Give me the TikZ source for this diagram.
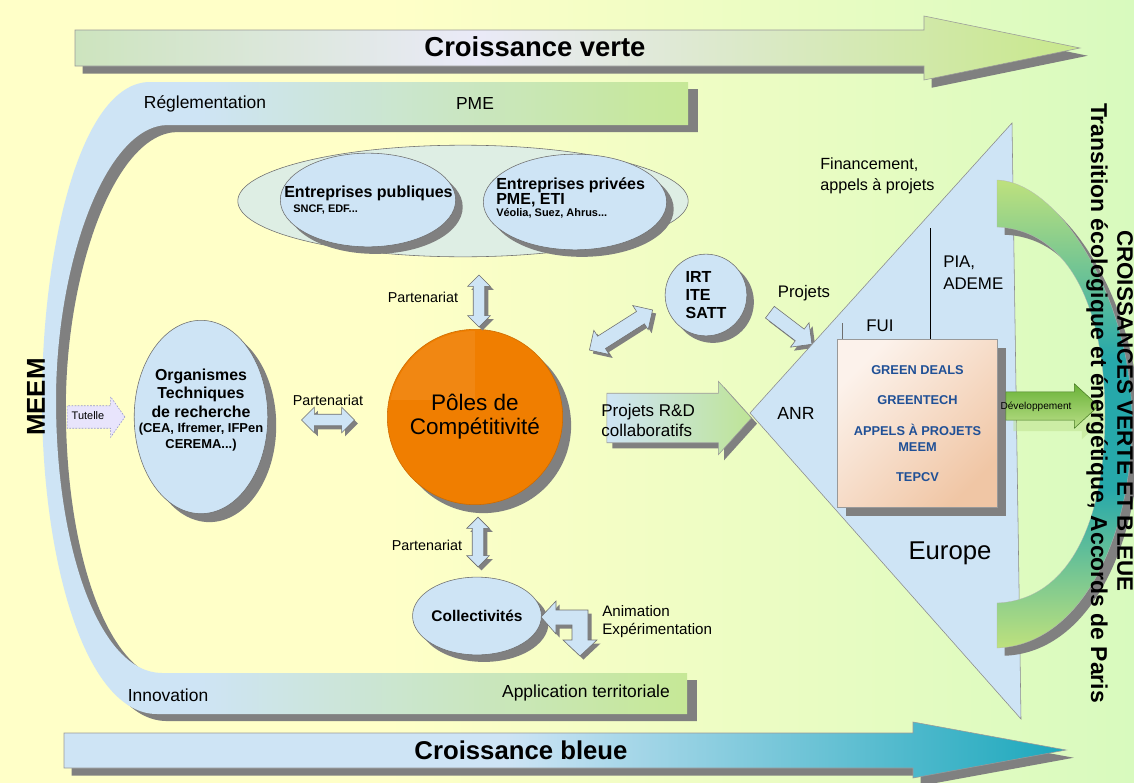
\documentclass[tikz,border=0pt]{standalone}
\usepackage{fontspec}
\setmainfont{Liberation Sans}
\usetikzlibrary{shapes.geometric,shapes.arrows,shadows}

\definecolor{bgyellow}{RGB}{255,255,200}
\definecolor{bggreen}{RGB}{216,250,190}
\definecolor{paleblue}{RGB}{206,228,245}
\definecolor{bandgreen}{RGB}{198,232,150}
\definecolor{shadowgray}{RGB}{128,128,128}
\definecolor{linegray}{RGB}{110,110,110}
\definecolor{verteL}{RGB}{205,228,190}
\definecolor{verteM}{RGB}{234,234,248}
\definecolor{verteR}{RGB}{200,232,140}
\definecolor{bleueT}{RGB}{28,168,188}
\definecolor{poleorange}{RGB}{240,126,0}
\definecolor{bigoval}{RGB}{222,238,228}
\definecolor{peachA}{RGB}{252,242,235}
\definecolor{peachB}{RGB}{240,198,165}
\definecolor{dealblue}{RGB}{32,80,150}
\definecolor{devdark}{RGB}{105,178,55}
\definecolor{devlight}{RGB}{185,222,135}
\definecolor{rdgreen}{RGB}{190,228,150}
\definecolor{tutellefill}{RGB}{232,228,252}
\definecolor{tutelledraw}{RGB}{150,150,205}
\definecolor{crescteal}{RGB}{38,168,170}
\definecolor{crescgreen}{RGB}{190,225,125}

\pgfdeclarehorizontalshading{bgshade}{100bp}{color(0bp)=(bgyellow); color(42bp)=(bgyellow); color(75bp)=(bggreen); color(100bp)=(bggreen)}
\pgfdeclarehorizontalshading{vertshade}{100bp}{color(0bp)=(verteL); color(25bp)=(verteL); color(45bp)=(verteM); color(75bp)=(verteR); color(100bp)=(verteR)}
\pgfdeclarehorizontalshading{bleueshade}{100bp}{color(0bp)=(paleblue); color(47bp)=(paleblue); color(75bp)=(bleueT); color(100bp)=(bleueT)}
\pgfdeclarehorizontalshading{bandshade}{100bp}{color(0bp)=(paleblue); color(37bp)=(paleblue); color(75bp)=(bandgreen); color(100bp)=(bandgreen)}
\pgfdeclareverticalshading{cresshade}{100bp}{color(0bp)=(crescgreen); color(25bp)=(crescgreen); color(42bp)=(crescteal); color(56bp)=(crescteal); color(75bp)=(crescgreen); color(100bp)=(crescgreen)}

\tikzset{
  dropgray/.style={drop shadow={fill=shadowgray,opacity=1,shadow xshift=#1,shadow yshift=-#1}},
  dropgray/.default=5pt,
  bubble/.style={ellipse, draw=linegray, fill=paleblue, inner sep=0pt},
  dblarrow/.style={double arrow, draw=linegray, fill=paleblue, inner xsep=0pt, dropgray=2.5pt},
  sglarrow/.style={single arrow, draw=linegray, fill=paleblue, inner xsep=0pt, dropgray=2.5pt},
  bigtitle/.style={font=\fontsize{19.5}{23}\selectfont\bfseries, inner sep=0pt},
  band/.style={font=\fontsize{12.4}{15}\selectfont, inner sep=0pt},
  small/.style={font=\fontsize{10.2}{12}\selectfont, inner sep=0pt},
  head/.style={font=\fontsize{11.4}{13}\selectfont\bfseries, inner sep=0pt},
  tinybold/.style={font=\fontsize{7.8}{9}\selectfont\bfseries, inner sep=0pt}
}

\begin{document}
\begin{tikzpicture}[x=0.025cm, y=-0.025cm]
    % page and background
    \useasboundingbox (0,0) rectangle (1134,783);
    \shade[shading=bgshade] (0,0) rectangle (1134,783);

    % croissance verte
    \shade[shading=vertshade, draw=linegray!70, thin, dropgray=5.5pt]
      (75,30) -- (924,30) -- (924,16) -- (1080,48) -- (924,80) -- (924,66) -- (75,66) -- cycle;
    \node[bigtitle] (verte) at (535,47) {Croissance verte};

    % croissance bleue
    \shade[shading=bleueshade, draw=linegray!70, thin, dropgray=5.5pt]
      (64,733) -- (913,733) -- (913,722) -- (1066,750) -- (913,778) -- (913,768) -- (64,768) -- cycle;
    \node[bigtitle, font=\fontsize{18.3}{22}\selectfont\bfseries] (bleue) at (521,750) {Croissance bleue};

    % MEEM band
    \shade[shading=bandshade, drop shadow={fill=shadowgray,opacity=1,shadow xshift=7pt,shadow yshift=-5pt}]
      (688,82) -- (150,82) .. controls (80,82) and (42,250) .. (42,400)
      .. controls (42,560) and (85,714) .. (157,714) -- (687,714) -- (687,673) -- (162,673)
      .. controls (100,673) and (56,550) .. (56,400) .. controls (56,265) and (105,125) .. (168,125)
      -- (688,125) -- cycle;
    \node[band] (regl) at (205,104) {Réglementation};
    \node[band] (pme) at (475,104) {PME};
    \node[band] (innov) at (168,695) {Innovation};
    \node[band] (terr) at (586,693) {Application territoriale};
    \node[font=\fontsize{18.4}{20}\selectfont\bfseries, inner sep=0pt, rotate=90] (meem) at (36,397) {MEEM};

    % entreprises
    \node[ellipse, draw=linegray, fill=bigoval, minimum width=320.3pt, minimum height=79.4pt] (entr) at (463,201) {};
    \node[bubble, minimum width=124.7pt, minimum height=66.6pt, dropgray] (pub) at (368,200) {};
    \node[bubble, minimum width=130.4pt, minimum height=68pt, dropgray] (priv) at (575,202) {};
    \node[head, anchor=west] (pubname) at (284,193) {Entreprises publiques};
    \node[tinybold, anchor=west] (publist) at (293,210) {SNCF, EDF...};
    \node[head, anchor=west] (privname) at (496,185) {Entreprises privées};
    \node[head, anchor=west] (privsize) at (496,200) {PME, ETI};
    \node[tinybold, anchor=west] (privlist) at (496,213) {Véolia, Suez, Ahrus...};

    % organismes
    \node[bubble, minimum width=95pt, minimum height=137.5pt, dropgray=6pt] (org) at (201,417) {};
    \node[head, font=\fontsize{11.3}{13.1}\selectfont\bfseries, align=center] (orgname) at (201,393) {Organismes\\Techniques\\de recherche};
    \node[font=\fontsize{9.2}{11}\selectfont\bfseries, inner sep=0pt, align=center] (orglist) at (201,437) {(CEA, Ifremer, IFPen\\CEREMA...)};

    % tutelle
    \node[single arrow, draw=tutelledraw, dash pattern=on 1.2pt off 1pt, fill=tutellefill, minimum height=41.1pt,
          inner xsep=0pt, inner ysep=7.8pt, single arrow head extend=6.4pt, single arrow tip angle=110] (tut) at (92,417) {};
    \node[font=\fontsize{7.8}{9}\selectfont, inner sep=0pt] (tuttext) at (88,416) {Tutelle};

    % poles
    \node[circle, fill=poleorange, draw=poleorange!85!black, minimum size=124.7pt, dropgray=6pt] (pole) at (475,417) {};
    \begin{scope}
      \clip (475,417) circle [radius=86];
      \fill[white, opacity=0.07] (380,320) rectangle (475,400);
    \end{scope}
    \node[font=\fontsize{16}{17}\selectfont, inner sep=0pt, align=center] (poletext) at (pole) {Pôles de\\Compétitivité};

    % partenariat arrows
    \node[dblarrow, minimum height=37.6pt, inner ysep=3.9pt, double arrow head extend=5pt] (partorg) at (328,420) {};
    \node[small] (partorgtext) at (328,400) {Partenariat};
    \node[dblarrow, rotate=90, minimum height=36.9pt, inner ysep=3.9pt, double arrow head extend=3.9pt] (partentr) at (479,301) {};
    \node[small] (partentrtext) at (423,297) {Partenariat};
    \node[dblarrow, rotate=90, minimum height=35.4pt, inner ysep=3.9pt, double arrow head extend=3.9pt] (partcoll) at (478,542) {};
    \node[small] (partcolltext) at (427,545) {Partenariat};
    \node[dblarrow, rotate=32.4, minimum height=53.2pt, inner ysep=5pt, double arrow head extend=5pt] (partirt) at (621,330) {};

    % IRT
    \node[bubble, circle, minimum size=58.1pt, dropgray, align=left, font=\fontsize{11.4}{13}\selectfont\bfseries] (irt) at (706,295) {IRT\\ITE\\SATT};
    \node[sglarrow, rotate=-37.3, minimum height=37.6pt, inner ysep=5pt, single arrow head extend=5.7pt] (proj) at (788,326) {};
    \node[font=\fontsize{11.9}{14}\selectfont, inner sep=0pt] (projtext) at (804,293) {Projets};

    % collectivites
    \node[bubble, minimum width=78pt, minimum height=55.3pt, dropgray, font=\fontsize{11}{13}\selectfont\bfseries] (coll) at (477,616) {Collectivités};
    \draw[draw=linegray, fill=paleblue, dropgray=2.5pt] (541,617) -- (556,601) -- (556,610) -- (588,610) -- (588,640)
      -- (597,640) -- (580,656) -- (563,640) -- (572,640) -- (572,625) -- (556,625) -- (556,634) -- cycle;
    \node[font=\fontsize{10.8}{12.8}\selectfont, inner sep=0pt, align=left, anchor=west] (anim) at (602,622) {Animation\\Expérimentation};

    % projets R&D
    \node[single arrow, draw=linegray!70, left color=paleblue, right color=rdgreen, minimum height=102.8pt, inner xsep=0pt,
          inner ysep=17.4pt, single arrow head extend=8.5pt, single arrow tip angle=96, dropgray=4pt] (rd) at (668,418) {};
    \node[font=\fontsize{12.1}{14.2}\selectfont, inner sep=0pt, align=left, anchor=west] (rdtext) at (601,420) {Projets R\&D\\collaboratifs};

    % europe
    \draw[fill=paleblue, draw=linegray!80, thin] (750,413) -- (1012,123) -- (1021,719) -- cycle;
    \draw[thin] (930,228) -- (930,340);
    \draw[thin, linegray] (842,323) -- (842,339);
    \node[font=\fontsize{11.5}{14.9}\selectfont, inner sep=0pt, align=left, anchor=west] (fin) at (820,176) {Financement,\\appels à projets};
    \node[font=\fontsize{12}{15.6}\selectfont, inner sep=0pt, align=left, anchor=west] (pia) at (943,273) {PIA,\\ADEME};
    \node[font=\fontsize{12}{14}\selectfont, inner sep=0pt] (fui) at (880,326) {FUI};
    \node[font=\fontsize{12.5}{14}\selectfont, inner sep=0pt] (anr) at (796,413) {ANR};
    \node[font=\fontsize{18.3}{20}\selectfont, inner sep=0pt] (europe) at (950,553) {Europe};

    % appels a projets box
    \node[rectangle, draw=linegray!70, top color=peachA, bottom color=peachB, shading angle=45,
          minimum width=113.4pt, minimum height=119.8pt, dropgray=6pt, text=dealblue,
          font=\fontsize{9.1}{11.3}\selectfont\bfseries, align=center] (deals) at (917.5,423.5)
          {GREEN DEALS\\[10.3pt]GREENTECH\\[10.3pt]APPELS À PROJETS\\MEEM\\[10.3pt]TEPCV};

    % developpement
    \node[single arrow, fill=devlight, opacity=0.45, minimum height=65.9pt, inner xsep=0pt, inner ysep=9.9pt,
          single arrow head extend=5.7pt, single arrow tip angle=85] (devrefl) at (1052,417) {};
    \node[single arrow, draw=devdark!70!black, top color=devdark, bottom color=devlight, minimum height=65.9pt,
          inner xsep=0pt, inner ysep=9.9pt, single arrow head extend=5.7pt, single arrow tip angle=85] (dev) at (1044.5,406) {};
    \node[font=\fontsize{7.2}{8}\selectfont, inner sep=0pt] (devtext) at (1036,407) {Développement};

    % croissances verte et bleue
    \shade[shading=cresshade, draw=linegray!50, very thin, dropgray=5.5pt]
      (997,180) .. controls (1060,182) and (1132,300) .. (1132,420) .. controls (1132,540) and (1080,645) .. (997,648)
      -- (997,603) .. controls (1070,600) and (1105,520) .. (1105,415) .. controls (1105,310) and (1070,230) .. (997,227) -- cycle;
    \node[font=\fontsize{15.9}{18}\selectfont\bfseries, inner sep=0pt, rotate=-90] (cvb) at (1125,411) {CROISSANCES VERTE ET BLEUE};
    \node[font=\fontsize{16.3}{19}\selectfont\bfseries, inner sep=0pt, rotate=-90] (trans) at (1097,403) {Transition écologique et énergétique, Accords de Paris};
\end{tikzpicture}
\end{document}
